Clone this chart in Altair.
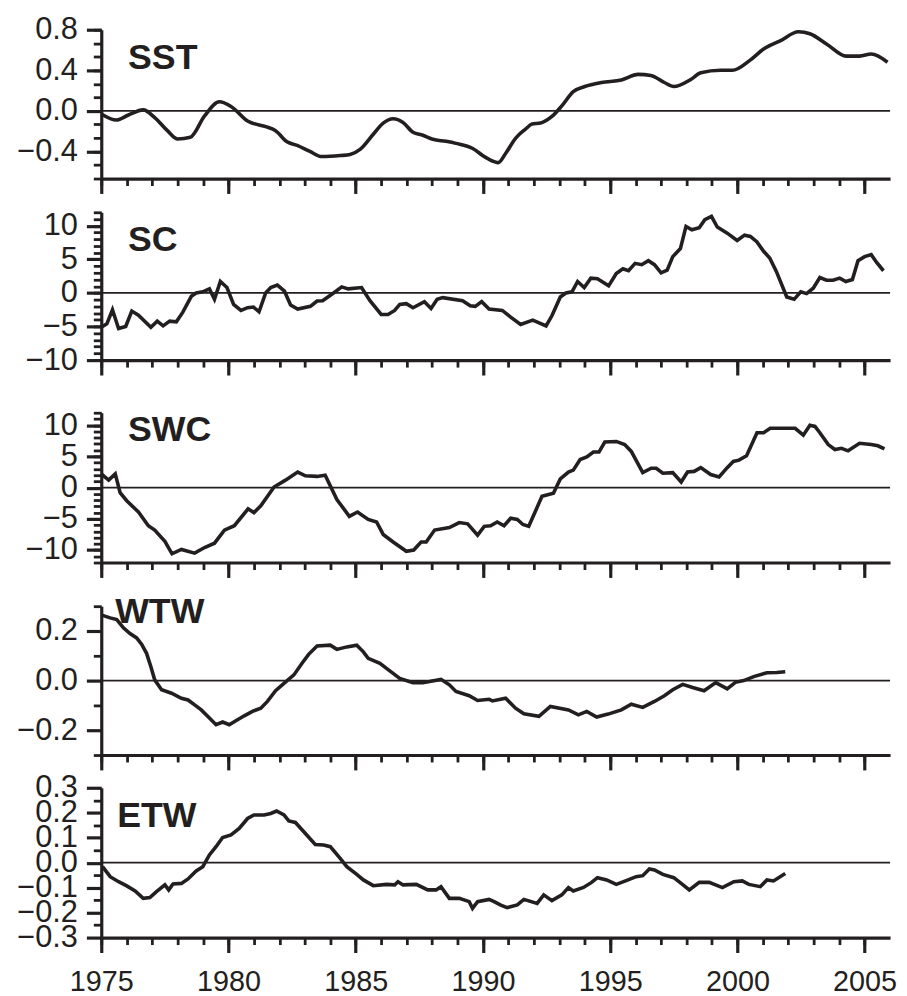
import altair as alt
import pandas as pd

INK = "#231f20"
FONT = "Liberation Sans"

# ---------------- data ----------------
sst_year = [1975.0, 1975.6, 1976.07, 1976.65, 1977.1, 1977.6, 1978.0, 1978.5, 1979.06, 1979.64,
            1980.1, 1980.75, 1981.5, 1981.85, 1982.3, 1982.7, 1983.2, 1983.67, 1984.4, 1984.78,
            1985.17, 1985.69, 1986.08, 1986.47, 1986.86, 1987.25, 1987.64, 1988.03, 1988.55, 1988.94,
            1989.6, 1990.05, 1990.44, 1990.6, 1990.89, 1991.28, 1991.67, 1991.93, 1992.26, 1992.71,
            1993.1, 1993.55, 1994.0, 1994.66, 1995.44, 1996.1, 1996.6, 1997.13, 1997.5, 1998.17,
            1998.56, 1999.34, 1999.8, 2000.5, 2001.03, 2001.68, 2002.4, 2002.85, 2003.5, 2004.28,
            2004.8, 2005.26, 2005.9]
sst_val = [-0.03, -0.09, -0.04, 0.01, -0.066, -0.195, -0.276, -0.26, -0.05, 0.09,
           0.044, -0.10, -0.158, -0.195, -0.305, -0.34, -0.40, -0.45, -0.44, -0.43,
           -0.38, -0.23, -0.12, -0.077, -0.114, -0.21, -0.24, -0.28, -0.30, -0.32,
           -0.37, -0.45, -0.50, -0.51, -0.42, -0.27, -0.18, -0.13, -0.12, -0.055,
           0.05, 0.19, 0.24, 0.28, 0.305, 0.36, 0.35, 0.28, 0.24, 0.31,
           0.375, 0.40, 0.40, 0.50, 0.61, 0.69, 0.78, 0.76, 0.66, 0.54,
           0.54, 0.56, 0.48]

sc_year = [1975.0, 1975.22, 1975.44, 1975.68, 1975.96, 1976.2, 1976.46, 1976.95, 1977.2, 1977.43,
           1977.69, 1977.95, 1978.2, 1978.54, 1978.73, 1978.99, 1979.25, 1979.45, 1979.68, 1979.94,
           1980.2, 1980.49, 1980.75, 1980.98, 1981.2, 1981.46, 1981.66, 1981.92, 1982.2, 1982.44,
           1982.72, 1983.22, 1983.48, 1983.7, 1984.13, 1984.45, 1984.7, 1985.23, 1985.56, 1986.0,
           1986.27, 1986.53, 1986.73, 1986.99, 1987.25, 1987.7, 1987.96, 1988.2, 1988.42, 1989.2,
           1989.5, 1989.7, 1989.95, 1990.24, 1990.76, 1991.09, 1991.48, 1991.96, 1992.48, 1992.71,
           1993.04, 1993.26, 1993.5, 1993.72, 1993.98, 1994.24, 1994.5, 1994.94, 1995.24, 1995.5,
           1995.72, 1995.98, 1996.24, 1996.5, 1996.74, 1997.0, 1997.24, 1997.46, 1997.76, 1997.98,
           1998.21, 1998.5, 1998.72, 1998.98, 1999.21, 1999.6, 1999.99, 2000.28, 2000.51, 2000.77,
           2001.03, 2001.27, 2001.53, 2001.94, 2002.23, 2002.49, 2002.72, 2002.98, 2003.24, 2003.5,
           2003.76, 2004.02, 2004.26, 2004.52, 2004.74, 2005.0, 2005.26, 2005.48, 2005.74]
sc_val = [-5.1, -4.6, -2.5, -5.3, -5.0, -2.7, -3.3, -5.1, -4.2, -4.9,
          -4.2, -4.3, -2.9, -0.5, 0.0, 0.16, 0.6, -0.95, 1.7, 0.8,
          -1.7, -2.6, -2.2, -2.1, -2.8, 0.0, 0.8, 1.16, 0.26, -1.8,
          -2.4, -2.0, -1.2, -1.16, 0.0, 0.9, 0.6, 0.8, -1.16, -3.2,
          -3.2, -2.6, -1.7, -1.6, -2.2, -1.3, -2.3, -0.95, -0.7, -1.16,
          -1.9, -2.0, -1.3, -2.4, -2.6, -3.6, -4.7, -4.05, -4.9, -3.4,
          -0.6, 0.0, 0.16, 1.7, 0.8, 2.2, 2.1, 1.05, 2.9, 3.6,
          3.3, 4.4, 4.2, 4.8, 4.2, 3.0, 3.4, 5.4, 6.6, 9.9,
          9.4, 9.7, 10.9, 11.4, 9.8, 8.9, 7.8, 8.6, 8.4, 7.6,
          6.2, 5.2, 3.2, -0.6, -0.95, 0.16, -0.1, 0.7, 2.3, 1.9,
          1.9, 2.2, 1.7, 2.0, 4.8, 5.4, 5.7, 4.5, 3.3]

swc_year = [1975.0, 1975.29, 1975.55, 1975.74, 1976.0, 1976.46, 1976.85, 1977.1, 1977.5, 1977.78,
            1978.15, 1978.67, 1979.06, 1979.45, 1979.84, 1980.23, 1980.77, 1981.0, 1981.27, 1981.79,
            1982.24, 1982.72, 1983.02, 1983.48, 1983.8, 1984.26, 1984.75, 1985.07, 1985.49, 1985.82,
            1986.08, 1986.47, 1986.99, 1987.28, 1987.57, 1987.77, 1988.1, 1988.68, 1989.07, 1989.4,
            1989.79, 1990.05, 1990.3, 1990.56, 1990.83, 1991.09, 1991.35, 1991.57, 1991.8, 1992.32,
            1992.77, 1993.04, 1993.36, 1993.55, 1993.82, 1994.08, 1994.34, 1994.56, 1994.79, 1995.24,
            1995.57, 1995.83, 1996.28, 1996.61, 1996.81, 1997.07, 1997.46, 1997.79, 1998.04, 1998.3,
            1998.56, 1998.95, 1999.28, 1999.6, 1999.84, 2000.06, 2000.36, 2000.77, 2001.03, 2001.29,
            2001.75, 2002.27, 2002.59, 2002.85, 2003.05, 2003.24, 2003.57, 2003.83, 2004.09, 2004.35,
            2004.8, 2005.26, 2005.52, 2005.78]
swc_val = [2.2, 1.2, 2.2, -0.8, -2.1, -3.9, -6.1, -6.8, -8.6, -10.6,
           -9.9, -10.5, -9.6, -8.9, -6.8, -6.1, -3.4, -4.0, -2.9, 0.1,
           1.2, 2.5, 1.9, 1.8, 2.0, -1.9, -4.6, -3.9, -5.1, -5.5,
           -7.5, -8.7, -10.2, -10.0, -8.7, -8.7, -6.8, -6.4, -5.6, -5.8,
           -7.6, -6.2, -6.1, -5.5, -6.1, -4.9, -5.1, -5.9, -6.2, -1.4,
           -0.9, 1.4, 2.5, 2.8, 4.5, 4.9, 5.7, 5.7, 7.3, 7.4,
           6.9, 5.8, 2.4, 3.1, 3.1, 2.3, 2.4, 0.9, 2.5, 2.6,
           3.2, 2.1, 1.7, 3.2, 4.2, 4.4, 5.1, 8.8, 8.8, 9.5,
           9.5, 9.5, 8.4, 10.0, 9.8, 8.8, 6.9, 6.1, 6.3, 5.9,
           7.1, 6.9, 6.7, 6.2]

wtw_year = [1975.05, 1975.35, 1975.61, 1975.87, 1976.13, 1976.39, 1976.59, 1976.78, 1976.95, 1977.1,
            1977.37, 1977.76, 1978.15, 1978.41, 1978.67, 1978.93, 1979.25, 1979.51, 1979.77, 1980.03,
            1980.29, 1980.62, 1980.94, 1981.27, 1981.53, 1981.85, 1982.18, 1982.57, 1982.89, 1983.15,
            1983.48, 1984.0, 1984.26, 1984.65, 1985.04, 1985.3, 1985.49, 1985.95, 1986.21, 1986.73,
            1987.25, 1987.64, 1987.9, 1988.35, 1988.68, 1988.94, 1989.46, 1989.79, 1990.24, 1990.37,
            1990.89, 1991.28, 1991.61, 1992.2, 1992.65, 1993.36, 1993.75, 1994.08, 1994.47, 1994.92,
            1995.44, 1995.83, 1996.28, 1996.74, 1997.13, 1997.46, 1997.85, 1998.24, 1998.69, 1999.15,
            1999.6, 1999.92, 2000.25, 2000.64, 2001.16, 2001.55, 2001.88]
wtw_val = [0.263, 0.253, 0.246, 0.213, 0.19, 0.172, 0.146, 0.11, 0.056, 0.003,
           -0.037, -0.051, -0.071, -0.078, -0.098, -0.118, -0.151, -0.178, -0.167, -0.178,
           -0.162, -0.142, -0.124, -0.111, -0.084, -0.041, -0.011, 0.023, 0.07, 0.106,
           0.14, 0.143, 0.126, 0.136, 0.143, 0.116, 0.09, 0.07, 0.049, 0.009,
           -0.008, -0.008, -0.004, 0.005, -0.017, -0.044, -0.061, -0.08, -0.075, -0.082,
           -0.071, -0.111, -0.134, -0.144, -0.104, -0.118, -0.138, -0.124, -0.147, -0.135,
           -0.118, -0.095, -0.108, -0.084, -0.061, -0.037, -0.015, -0.028, -0.041, -0.008,
           -0.033, -0.007, 0.0, 0.016, 0.032, 0.033, 0.036]

etw_year = [1975.05, 1975.35, 1975.68, 1976.0, 1976.33, 1976.65, 1976.91, 1977.17, 1977.5, 1977.65,
            1977.82, 1978.15, 1978.41, 1978.73, 1978.99, 1979.25, 1979.51, 1979.77, 1980.1, 1980.42,
            1980.75, 1981.0, 1981.4, 1981.66, 1981.89, 1982.18, 1982.37, 1982.63, 1982.96, 1983.41,
            1983.74, 1984.0, 1984.39, 1984.65, 1985.04, 1985.3, 1985.69, 1986.21, 1986.53, 1986.66,
            1986.86, 1987.38, 1987.83, 1988.16, 1988.35, 1988.68, 1989.07, 1989.46, 1989.59, 1989.79,
            1990.24, 1990.44, 1990.7, 1990.95, 1991.35, 1991.61, 1992.13, 1992.39, 1992.71, 1993.1,
            1993.36, 1993.55, 1993.95, 1994.27, 1994.5, 1994.86, 1995.24, 1995.63, 1996.02, 1996.28,
            1996.54, 1996.74, 1997.07, 1997.5, 1997.79, 1998.11, 1998.5, 1998.89, 1999.41, 1999.86,
            2000.19, 2000.45, 2000.9, 2001.16, 2001.42, 2001.88]
etw_val = [-0.016, -0.056, -0.076, -0.093, -0.113, -0.143, -0.14, -0.116, -0.089, -0.109,
           -0.085, -0.083, -0.065, -0.033, -0.016, 0.031, 0.064, 0.101, 0.111, 0.137,
           0.177, 0.191, 0.191, 0.197, 0.207, 0.191, 0.167, 0.161, 0.124, 0.073,
           0.071, 0.064, 0.017, -0.016, -0.047, -0.069, -0.092, -0.087, -0.089, -0.076,
           -0.089, -0.087, -0.109, -0.109, -0.096, -0.143, -0.143, -0.156, -0.183, -0.156,
           -0.147, -0.156, -0.17, -0.18, -0.169, -0.147, -0.163, -0.129, -0.152, -0.129,
           -0.1, -0.113, -0.099, -0.079, -0.06, -0.069, -0.087, -0.072, -0.056, -0.052,
           -0.025, -0.029, -0.047, -0.06, -0.083, -0.109, -0.079, -0.079, -0.1, -0.076,
           -0.073, -0.087, -0.096, -0.069, -0.073, -0.043]

# axis tick values
major_years = [1975, 1980, 1985, 1990, 1995, 2000, 2005]
all_years = list(range(1975, 2006))

sst_major = [-0.4, 0.0, 0.4, 0.8]
sst_minor = [0.8, 0.6667, 0.5333, 0.4, 0.2667, 0.1333, 0.0, -0.1333, -0.2667, -0.4, -0.5333, -0.6667]
sc_major = [-10, -5, 0, 5, 10]
sc_minor = list(range(-10, 13))
swc_major = [-10, -5, 0, 5, 10]
swc_minor = list(range(-12, 13))
wtw_major = [-0.2, 0.0, 0.2]
wtw_minor = [-0.3, -0.1, 0.1, 0.3]
etw_major = [-0.3, -0.2, -0.1, 0.0, 0.1, 0.2, 0.3]
etw_minor = [-0.25, -0.15, -0.05, 0.05, 0.15, 0.25]

W = 795
common = dict(grid=False, title=None, tickColor=INK, domainColor=INK,
              labelColor=INK, labelFont=FONT)


def panel(name, yrs, vals, domain, major, minor, fmt, tx, ty, height, bottom, interp):
    df = pd.DataFrame({"year": yrs, "value": vals})
    xs = alt.Scale(domain=[1975, 2006], nice=False, zero=False)
    ys = alt.Scale(domain=domain, nice=False, zero=False)
    x_major = alt.Axis(orient="bottom", values=major_years, tickSize=15, tickWidth=3.2,
                       domain=True, domainWidth=3.2, labels=bottom, format="d",
                       labelFontSize=29, labelPadding=15, labelFlush=False,
                       labelOverlap=False, **common)
    x_minor = alt.Axis(orient="bottom", values=all_years, tickSize=7, tickWidth=2.8,
                       domain=False, labels=False, **common)
    y_major = alt.Axis(orient="left", values=major, tickSize=15, tickWidth=3.2,
                       domain=True, domainWidth=3.2, format=fmt, labelFontSize=31,
                       labelPadding=9, labelOverlap=False, labelFlush=False, **common)
    y_minor = alt.Axis(orient="left", values=minor, tickSize=8, tickWidth=2.8,
                       domain=False, labels=False, **common)
    minor_layer = alt.Chart(df).mark_line(opacity=0).encode(
        x=alt.X("year:Q", scale=xs, axis=x_minor),
        y=alt.Y("value:Q", scale=ys, axis=y_minor))
    zero_layer = alt.Chart(pd.DataFrame({"z": [0.0]})).mark_rule(
        color=INK, strokeWidth=1.8).encode(y=alt.Y("z:Q", scale=ys, axis=None))
    line_layer = alt.Chart(df).mark_line(
        color=INK, strokeWidth=3.6, interpolate=interp).encode(
        x=alt.X("year:Q", scale=xs, axis=x_major),
        y=alt.Y("value:Q", scale=ys, axis=y_major))
    title_layer = alt.Chart(pd.DataFrame({"label": [name]})).mark_text(
        align="left", baseline="alphabetic", font=FONT, fontSize=36,
        fontWeight="bold", color=INK).encode(
        x=alt.value(tx), y=alt.value(ty), text="label:N")
    return alt.layer(minor_layer, zero_layer, line_layer, title_layer).resolve_axis(
        x="independent", y="independent").properties(width=W, height=height)


def spacer(h):
    return alt.Chart(pd.DataFrame({"s": [0]})).mark_point(opacity=0).encode(
        x=alt.value(0), y=alt.value(0)).properties(width=W, height=h)


p1 = panel("SST", sst_year, sst_val, [-0.6667, 0.8], sst_major, sst_minor, ".1f", 27, 40, 150, False, "monotone")
p2 = panel("SC", sc_year, sc_val, [-10, 12], sc_major, sc_minor, "d", 27, 39, 149, False, "linear")
p3 = panel("SWC", swc_year, swc_val, [-12, 12], swc_major, swc_minor, "d", 27, 29, 151, False, "linear")
p4 = panel("WTW", wtw_year, wtw_val, [-0.3, 0.3], wtw_major, wtw_minor, ".1f", 14, 17, 150, False, "linear")
p5 = panel("ETW", etw_year, etw_val, [-0.3, 0.3], etw_major, etw_minor, ".1f", 16, 40, 151, True, "linear")

chart = alt.vconcat(p1, spacer(34), p2, spacer(53), p3, spacer(44), p4, spacer(33), p5,
                    spacing=0, bounds="flush").configure_view(stroke=None).properties(
    padding={"left": 8, "top": 2, "right": 2, "bottom": 0})

chart.save("out.html", embed_options={"renderer": "svg", "actions": False})
